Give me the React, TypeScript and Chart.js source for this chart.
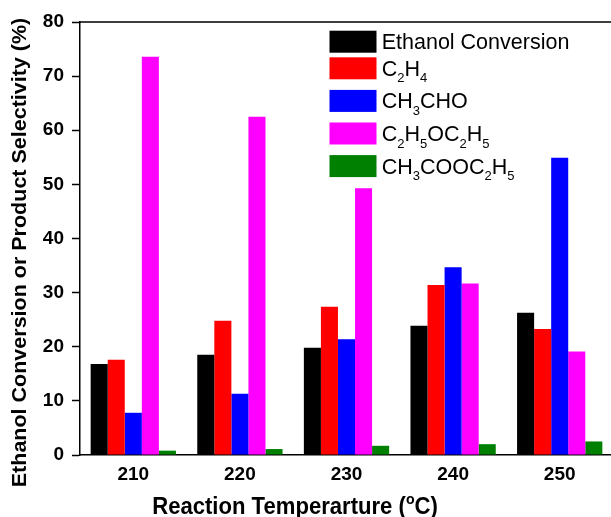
import React, { useEffect, useRef } from 'react';
import { Chart, registerables } from 'chart.js';

Chart.register(...registerables);

// ---------- data ----------
const categories = ['210', '220', '230', '240', '250'];
const seriesNames = ['Ethanol Conversion', 'C2H4', 'CH3CHO', 'C2H5OC2H5', 'CH3COOC2H5'];
const ethanolConversion = [16.8, 18.5, 19.8, 23.9, 26.3];
const ethyleneSel = [17.6, 24.8, 27.4, 31.4, 23.3];
const acetaldehydeSel = [7.8, 11.3, 21.4, 34.7, 54.9];
const diethylEtherSel = [73.6, 62.5, 49.3, 31.7, 19.1];
const ethylAcetateSel = [0.8, 1.1, 1.7, 2.0, 2.5];
const seriesColors = ['#000000', '#FF0000', '#0000FF', '#FF00FF', '#008000'];
const yTickValues = [0, 10, 20, 30, 40, 50, 60, 70, 80];
const xTitleMain = 'Reaction Temperarture (';
const xTitleSup = 'o';
const xTitleEnd = 'C)';
const yTitle = 'Ethanol Conversion or Product Selectivity (%)';

const FONT = '"Liberation Sans", Arial, Helvetica, sans-serif';

function drawFormula(ctx: CanvasRenderingContext2D, text: string, x: number, yBase: number, size: number, subSize: number, subDrop: number) {
  const re = /(\d+)|([^\d]+)/g;
  let m: RegExpExecArray | null;
  let cx = x;
  while ((m = re.exec(text)) !== null) {
    if (m[1]) {
      ctx.font = `${subSize}px ${FONT}`;
      ctx.fillText(m[1], cx, yBase + subDrop);
      cx += ctx.measureText(m[1]).width;
    } else {
      ctx.font = `${size}px ${FONT}`;
      ctx.fillText(m[2], cx, yBase);
      cx += ctx.measureText(m[2]).width;
    }
  }
}

const decorPlugin = {
  id: 'decor',
  afterDraw(chart: any) {
    const ctx: CanvasRenderingContext2D = chart.ctx;
    const area = chart.chartArea;
    ctx.save();
    // top / right frame line
    ctx.strokeStyle = '#000';
    ctx.lineWidth = 1.5;
    ctx.beginPath();
    ctx.moveTo(area.left, area.top);
    ctx.lineTo(area.right, area.top);
    ctx.lineTo(area.right, area.bottom);
    ctx.stroke();

    // legend
    const swX = 329.5;
    const swW = 47;
    const swH = 22;
    const textX = 381.7;
    let top = 30.7;
    ctx.textBaseline = 'alphabetic';
    ctx.textAlign = 'left';
    seriesNames.forEach((name, i) => {
      ctx.fillStyle = seriesColors[i];
      ctx.fillRect(swX, top, swW, swH);
      ctx.fillStyle = '#000';
      const base = top + swH / 2 + 7.5;
      drawFormula(ctx, name, textX, base, 21.5, 13, 6.5);
      top += /\d/.test(name) ? 32.6 : 26.6;
    });

    // x title (slightly condensed, as in the reference)
    ctx.fillStyle = '#000';
    const sx = 0.94;
    ctx.font = `bold 23.5px ${FONT}`;
    const w1 = ctx.measureText(xTitleMain).width;
    const w3 = ctx.measureText(xTitleEnd).width;
    ctx.font = `bold 15px ${FONT}`;
    const w2 = ctx.measureText(xTitleSup).width;
    const total = (w1 + w2 + w3) * sx;
    ctx.save();
    ctx.translate(295 - total / 2, 513.5);
    ctx.scale(sx, 1);
    let xx = 0;
    ctx.font = `bold 23.5px ${FONT}`;
    ctx.fillText(xTitleMain, xx, 0);
    xx += w1;
    ctx.font = `bold 15px ${FONT}`;
    ctx.fillText(xTitleSup, xx, -9.5);
    xx += w2;
    ctx.font = `bold 23.5px ${FONT}`;
    ctx.fillText(xTitleEnd, xx, 0);
    ctx.restore();

    // y title
    ctx.save();
    ctx.translate(26, 252.5);
    ctx.rotate(-Math.PI / 2);
    ctx.scale(1, 0.92);
    ctx.font = `bold 21.5px ${FONT}`;
    ctx.textAlign = 'center';
    ctx.textBaseline = 'alphabetic';
    ctx.fillText(yTitle, 0, 0);
    ctx.restore();

    ctx.restore();
  },
};

export default function App() {
  const canvasRef = useRef<HTMLCanvasElement | null>(null);

  useEffect(() => {
    if (!canvasRef.current) return;
    const seriesValues = [ethanolConversion, ethyleneSel, acetaldehydeSel, diethylEtherSel, ethylAcetateSel];
    const chart = new Chart(canvasRef.current, {
      type: 'bar',
      data: {
        labels: categories,
        datasets: seriesNames.map((name, i) => ({
          label: name,
          data: seriesValues[i],
          backgroundColor: seriesColors[i],
          borderWidth: 0,
          categoryPercentage: 0.8,
          barPercentage: 1.0,
        })),
      },
      options: {
        responsive: false,
        animation: false,
        devicePixelRatio: 1,
        layout: { padding: { left: 0, right: 7, top: 22, bottom: 0 } },
        plugins: {
          legend: { display: false },
          tooltip: { enabled: false },
          title: { display: false },
        },
        scales: {
          x: {
            type: 'category',
            offset: true,
            grid: { display: false, drawTicks: false, drawOnChartArea: false },
            border: { display: true, color: '#000', width: 1.5 },
            ticks: {
              color: '#000',
              padding: 8,
              font: { family: FONT, size: 19, weight: 'bold' },
              maxRotation: 0,
            },
            afterFit: (s: any) => { s.height = 62; },
          },
          y: {
            min: 0,
            max: 80,
            afterBuildTicks: (s: any) => { s.ticks = yTickValues.map((v) => ({ value: v })); },
            grid: {
              display: true,
              drawOnChartArea: false,
              drawTicks: true,
              tickLength: 8,
              tickWidth: 1.5,
              tickColor: '#000',
            },
            border: { display: true, color: '#000', width: 1.5 },
            ticks: {
              color: '#000',
              padding: 8,
              font: { family: FONT, size: 19, weight: 'bold' },
            },
            afterFit: (s: any) => { s.width = 80; },
          },
        },
      },
      plugins: [decorPlugin],
    });
    return () => chart.destroy();
  }, []);

  return (
    <div style={{ position: 'fixed', left: 0, top: 0, width: 611, height: 517, overflow: 'hidden', background: '#fff' }}>
      <canvas ref={canvasRef} width={620} height={517} style={{ display: 'block' }} />
    </div>
  );
}
